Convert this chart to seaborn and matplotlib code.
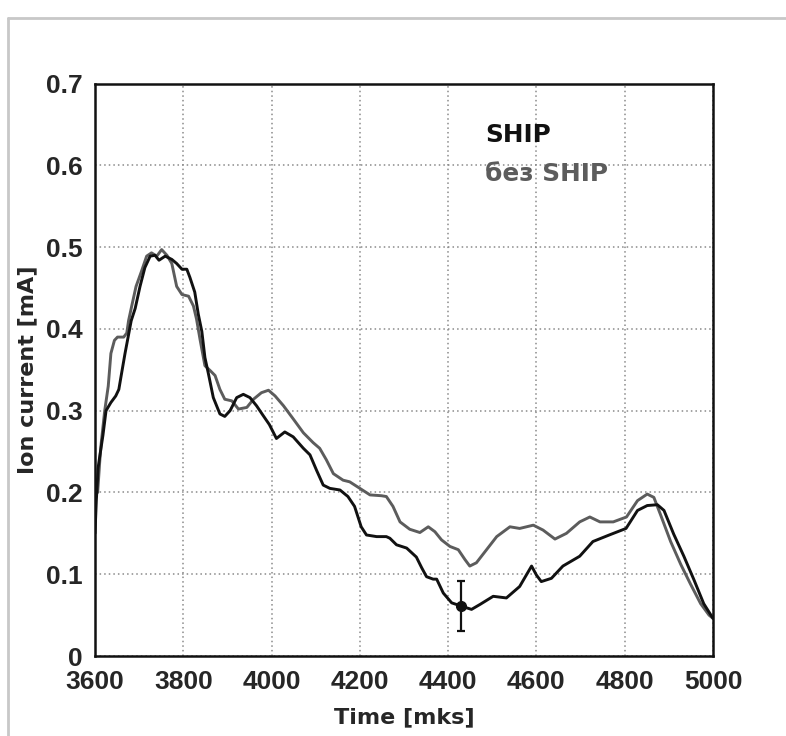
import matplotlib
matplotlib.use("Agg")
import matplotlib.pyplot as plt
from matplotlib.lines import Line2D
from matplotlib.ticker import MultipleLocator
import seaborn as sns
import pandas as pd

# Ion current with SHIP
ship_t = [3600, 3603, 3607, 3611, 3618, 3625, 3636, 3647, 3654, 3660, 3668, 3675,
          3682, 3691, 3702, 3713, 3725, 3736, 3745, 3759, 3774, 3785, 3797, 3808,
          3815, 3826, 3834, 3842, 3849, 3857, 3868, 3883, 3894, 3906, 3921, 3936,
          3951, 3966, 3981, 3995, 4011, 4030, 4049, 4072, 4087, 4102, 4117, 4132,
          4155, 4173, 4188, 4203, 4215, 4238, 4260, 4268, 4283, 4306, 4328, 4340,
          4351, 4366, 4374, 4389, 4408, 4430, 4453, 4472, 4502, 4532, 4562, 4589,
          4600, 4611, 4634, 4660, 4698, 4728, 4765, 4803, 4829, 4851, 4874, 4889,
          4911, 4934, 4957, 4979, 5000]
ship_i = [0.15, 0.19, 0.23, 0.245, 0.27, 0.30, 0.31, 0.318, 0.326, 0.345, 0.37, 0.39,
          0.41, 0.425, 0.452, 0.475, 0.489, 0.49, 0.484, 0.489, 0.485, 0.48, 0.473, 0.473,
          0.463, 0.445, 0.418, 0.397, 0.365, 0.345, 0.316, 0.296, 0.293, 0.30, 0.316, 0.32,
          0.316, 0.306, 0.294, 0.283, 0.266, 0.274, 0.268, 0.254, 0.246, 0.227, 0.209, 0.205,
          0.203, 0.195, 0.183, 0.158, 0.148, 0.146, 0.146, 0.144, 0.136, 0.132, 0.121, 0.108,
          0.097, 0.094, 0.094, 0.077, 0.065, 0.061, 0.057, 0.063, 0.073, 0.071, 0.085, 0.11,
          0.099, 0.091, 0.095, 0.11, 0.122, 0.14, 0.148, 0.156, 0.178, 0.184, 0.185, 0.178,
          0.149, 0.122, 0.093, 0.064, 0.046]

# Ion current without SHIP
noship_t = [3600, 3606, 3611, 3614, 3622, 3630, 3636, 3644, 3651, 3665, 3672, 3676,
            3684, 3693, 3705, 3717, 3728, 3740, 3751, 3763, 3774, 3785, 3797, 3812,
            3823, 3830, 3838, 3849, 3861, 3872, 3883, 3894, 3910, 3925, 3944, 3959,
            3977, 3993, 4008, 4027, 4049, 4072, 4094, 4109, 4124, 4140, 4162, 4177,
            4200, 4223, 4249, 4260, 4275, 4291, 4313, 4336, 4355, 4370, 4385, 4404,
            4423, 4438, 4449, 4464, 4487, 4510, 4540, 4562, 4593, 4615, 4642, 4668,
            4698, 4721, 4744, 4774, 4804, 4829, 4851, 4866, 4881, 4904, 4927, 4949,
            4972, 4991, 5000]
noship_i = [0.21, 0.20, 0.24, 0.26, 0.30, 0.33, 0.37, 0.386, 0.39, 0.39, 0.395, 0.41,
            0.43, 0.452, 0.47, 0.489, 0.493, 0.489, 0.497, 0.49, 0.48, 0.452, 0.442, 0.44,
            0.428, 0.412, 0.387, 0.355, 0.349, 0.343, 0.326, 0.314, 0.312, 0.302, 0.304, 0.314,
            0.322, 0.325, 0.318, 0.306, 0.29, 0.273, 0.261, 0.254, 0.24, 0.223, 0.215, 0.213,
            0.205, 0.197, 0.196, 0.195, 0.183, 0.164, 0.155, 0.151, 0.158, 0.152, 0.142, 0.134,
            0.13, 0.118, 0.11, 0.114, 0.13, 0.146, 0.158, 0.156, 0.16, 0.154, 0.143, 0.15,
            0.164, 0.17, 0.164, 0.164, 0.17, 0.19, 0.198, 0.194, 0.173, 0.14, 0.112, 0.088,
            0.064, 0.05, 0.046]

# Single measurement with its uncertainty
err_t = [4430]
err_i = [0.061]
err_d = [0.031]

legend_labels = ["SHIP", "без SHIP"]
y_ticks = [0, 0.1, 0.2, 0.3, 0.4, 0.5, 0.6, 0.7]
y_tick_labels = ["0", "0.1", "0.2", "0.3", "0.4", "0.5", "0.6", "0.7"]

sns.set_style("white")
plt.rcParams["font.family"] = ["DejaVu Sans"]
plt.rcParams["font.weight"] = "bold"

BLACK = "#111111"
GRAY = "#5c5c5c"
TICK_FONT = ["Liberation Sans", "DejaVu Sans"]

fig = plt.figure(figsize=(7.86, 7.36), dpi=100)
ax = fig.add_axes([95 / 786, 1 - 656 / 736, 618 / 786, (656 - 83.6) / 736])

df_ship = pd.DataFrame({"t": ship_t, "i": ship_i})
df_noship = pd.DataFrame({"t": noship_t, "i": noship_i})
sns.lineplot(data=df_noship, x="t", y="i", ax=ax, color=GRAY, lw=2.1, sort=False)
sns.lineplot(data=df_ship, x="t", y="i", ax=ax, color=BLACK, lw=2.1, sort=False)
ax.errorbar(err_t, err_i, yerr=err_d, fmt="o", color=BLACK, ms=7, lw=1.6,
            capsize=3, capthick=1.6, zorder=5)

ax.set_xlim(3600, 5000)
ax.set_ylim(0, 0.7)
ax.xaxis.set_major_locator(MultipleLocator(200))
ax.xaxis.set_minor_locator(MultipleLocator(50))
ax.yaxis.set_minor_locator(MultipleLocator(0.02))
ax.set_yticks(y_ticks)
ax.set_yticklabels(y_tick_labels)

ax.tick_params(which="major", direction="in", length=18, width=1.4, color="#222222",
               top=False, right=False)
ax.tick_params(which="minor", direction="in", length=10, width=1.2, color="#222222",
               top=False, right=False)
ax.tick_params(axis="x", which="major", pad=10)
ax.tick_params(axis="y", which="major", pad=9)
for lab in ax.get_xticklabels() + ax.get_yticklabels():
    lab.set_fontweight("bold")
    lab.set_fontfamily(TICK_FONT)
    lab.set_fontsize(19)

ax.grid(True, which="major", linestyle=(0, (1, 2)), color="#8a8a8a", lw=1.1)
for sp in ax.spines.values():
    sp.set_visible(True)
    sp.set_color("#111111")
    sp.set_linewidth(1.8)

ax.set_xlabel("Time [mks]", fontsize=16, fontweight="bold", labelpad=10)
ax.set_ylabel("Ion current [mA]", fontsize=16, fontweight="bold", labelpad=6)

ax.text(0.631, 0.898, legend_labels[0], transform=ax.transAxes, fontsize=17.8,
        fontweight="bold", color=BLACK, va="baseline", ha="left")
ax.text(0.631, 0.830, legend_labels[1], transform=ax.transAxes, fontsize=17.8,
        fontweight="bold", color=GRAY, va="baseline", ha="left")

# Light frame around the figure
fig.add_artist(Line2D([8 / 786, 8 / 786], [0, 1 - 18 / 736], transform=fig.transFigure,
                      color="#c8c8c8", lw=2))
fig.add_artist(Line2D([8 / 786, 1], [1 - 18 / 736, 1 - 18 / 736], transform=fig.transFigure,
                      color="#c8c8c8", lw=2))

fig.savefig("out.png", dpi=100)
